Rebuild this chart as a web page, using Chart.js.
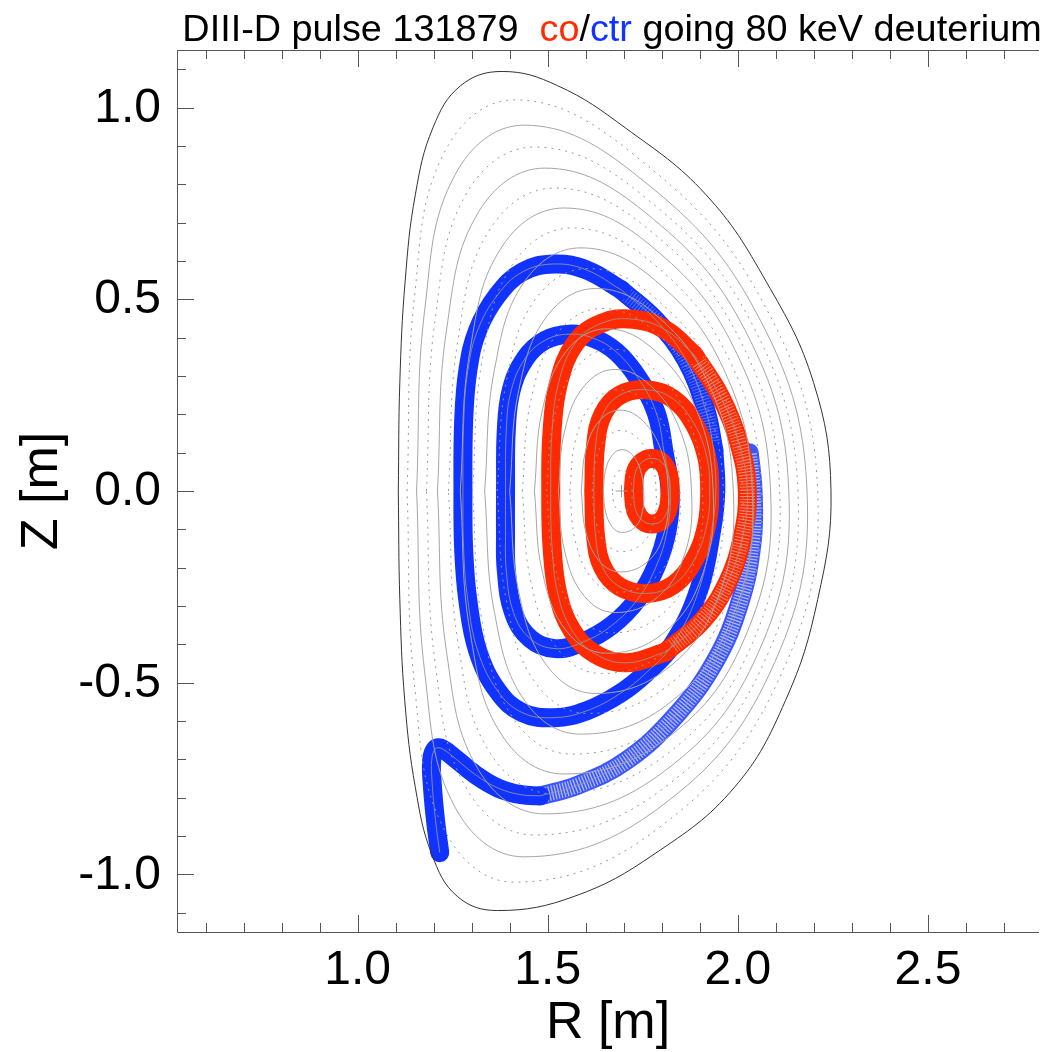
<!DOCTYPE html>
<html>
<head>
<meta charset="utf-8">
<title>DIII-D pulse 131879 orbits</title>
<script src="https://cdn.jsdelivr.net/npm/chart.js@4.4.1/dist/chart.umd.min.js"></script>
<style>
  html, body { margin: 0; padding: 0; background: #fff; }
  canvas { display: block; }
</style>
</head>
<body>
<canvas id="orbitChart" width="1046" height="1052"></canvas>
<script>
// axes
const rRange = [0.525, 2.792];
const zRange = [-1.15, 1.15];
const rTicks = [1.0, 1.5, 2.0, 2.5];
const rMinorTicks = [0.6, 0.7, 0.8, 0.9, 1.1, 1.2, 1.3, 1.4, 1.6, 1.7, 1.8, 1.9, 2.1, 2.2, 2.3, 2.4, 2.6, 2.7];
const zTicks = [-1.0, -0.5, 0.0, 0.5, 1.0];
const zMinorTicks = [-1.1, -0.9, -0.8, -0.7, -0.6, -0.4, -0.3, -0.2, -0.1, 0.1, 0.2, 0.3, 0.4, 0.6, 0.7, 0.8, 0.9, 1.1];

// flux surfaces, innermost first (1st dotted, 2nd solid, ...)
const fluxR = [
  [1.670, 1.673, 1.682, 1.695, 1.708, 1.718, 1.722, 1.720, 1.712, 1.695, 1.682, 1.673, 1.670],
  [1.646, 1.652, 1.670, 1.695, 1.723, 1.744, 1.752, 1.749, 1.730, 1.695, 1.670, 1.652, 1.646],
  [1.617, 1.626, 1.653, 1.693, 1.737, 1.772, 1.785, 1.779, 1.748, 1.693, 1.653, 1.626, 1.617],
  [1.588, 1.600, 1.636, 1.690, 1.750, 1.798, 1.817, 1.807, 1.764, 1.690, 1.636, 1.600, 1.588],
  [1.558, 1.573, 1.617, 1.684, 1.761, 1.824, 1.848, 1.835, 1.779, 1.684, 1.617, 1.573, 1.558],
  [1.528, 1.545, 1.597, 1.677, 1.770, 1.848, 1.878, 1.862, 1.791, 1.677, 1.597, 1.545, 1.528],
  [1.497, 1.516, 1.574, 1.667, 1.777, 1.870, 1.907, 1.886, 1.802, 1.667, 1.574, 1.516, 1.497],
  [1.465, 1.486, 1.550, 1.655, 1.782, 1.891, 1.935, 1.909, 1.810, 1.655, 1.550, 1.486, 1.465],
  [1.433, 1.456, 1.526, 1.642, 1.786, 1.911, 1.962, 1.931, 1.818, 1.642, 1.526, 1.456, 1.433],
  [1.400, 1.424, 1.499, 1.626, 1.787, 1.930, 1.988, 1.953, 1.822, 1.626, 1.499, 1.424, 1.400],
  [1.367, 1.392, 1.469, 1.606, 1.784, 1.946, 2.013, 1.971, 1.823, 1.606, 1.469, 1.392, 1.367],
  [1.334, 1.360, 1.441, 1.587, 1.783, 1.963, 2.038, 1.990, 1.825, 1.587, 1.441, 1.360, 1.334],
  [1.302, 1.328, 1.410, 1.564, 1.776, 1.977, 2.062, 2.006, 1.822, 1.564, 1.410, 1.328, 1.302],
  [1.270, 1.296, 1.381, 1.543, 1.772, 1.992, 2.086, 2.024, 1.821, 1.543, 1.381, 1.296, 1.270],
  [1.239, 1.264, 1.349, 1.518, 1.763, 2.005, 2.110, 2.039, 1.816, 1.518, 1.349, 1.264, 1.239],
  [1.210, 1.234, 1.319, 1.492, 1.753, 2.018, 2.134, 2.054, 1.809, 1.492, 1.319, 1.234, 1.210],
  [1.181, 1.204, 1.287, 1.464, 1.742, 2.030, 2.158, 2.068, 1.802, 1.464, 1.287, 1.204, 1.181],
  [1.155, 1.177, 1.257, 1.437, 1.730, 2.042, 2.182, 2.083, 1.793, 1.437, 1.257, 1.177, 1.155],
  [1.130, 1.150, 1.228, 1.411, 1.719, 2.056, 2.210, 2.099, 1.786, 1.411, 1.228, 1.150, 1.130]
];
const fluxZ = [
  [0, 0.028, 0.048, 0.055, 0.048, 0.028, 0, -0.028, -0.048, -0.055, -0.048, -0.028, 0],
  [0, 0.054, 0.094, 0.108, 0.094, 0.054, 0, -0.054, -0.094, -0.108, -0.094, -0.054, 0],
  [0, 0.079, 0.137, 0.158, 0.137, 0.079, 0, -0.079, -0.137, -0.158, -0.137, -0.079, 0],
  [0, 0.106, 0.183, 0.211, 0.183, 0.106, 0, -0.106, -0.183, -0.211, -0.183, -0.106, 0],
  [0, 0.132, 0.229, 0.264, 0.229, 0.132, 0, -0.132, -0.229, -0.264, -0.229, -0.132, 0],
  [0, 0.159, 0.275, 0.317, 0.275, 0.159, 0, -0.159, -0.275, -0.317, -0.275, -0.159, 0],
  [0, 0.185, 0.320, 0.370, 0.320, 0.185, 0, -0.185, -0.320, -0.370, -0.320, -0.185, 0],
  [0, 0.212, 0.366, 0.423, 0.366, 0.212, 0, -0.212, -0.366, -0.423, -0.366, -0.212, 0],
  [0, 0.238, 0.412, 0.476, 0.412, 0.238, 0, -0.238, -0.412, -0.476, -0.412, -0.238, 0],
  [0, 0.264, 0.457, 0.528, 0.457, 0.264, 0, -0.264, -0.457, -0.528, -0.457, -0.264, 0],
  [0, 0.290, 0.502, 0.580, 0.502, 0.290, 0, -0.290, -0.502, -0.580, -0.502, -0.290, 0],
  [0, 0.317, 0.549, 0.634, 0.549, 0.317, 0, -0.317, -0.549, -0.634, -0.549, -0.317, 0],
  [0, 0.343, 0.594, 0.686, 0.594, 0.343, 0, -0.343, -0.594, -0.686, -0.594, -0.343, 0],
  [0, 0.369, 0.639, 0.738, 0.639, 0.369, 0, -0.369, -0.639, -0.738, -0.639, -0.369, 0],
  [0, 0.395, 0.684, 0.790, 0.684, 0.395, 0, -0.395, -0.684, -0.790, -0.684, -0.395, 0],
  [0, 0.421, 0.729, 0.842, 0.729, 0.421, 0, -0.421, -0.729, -0.842, -0.729, -0.421, 0],
  [0, 0.449, 0.777, 0.897, 0.777, 0.449, 0, -0.449, -0.777, -0.897, -0.777, -0.449, 0],
  [0, 0.477, 0.826, 0.954, 0.826, 0.477, 0, -0.477, -0.826, -0.954, -0.826, -0.477, 0],
  [0, 0.510, 0.883, 1.020, 0.883, 0.510, 0, -0.510, -0.883, -1.020, -0.883, -0.510, 0]
];
const boundaryR = [1.107, 1.111, 1.125, 1.152, 1.198, 1.271, 1.380, 1.526, 1.704, 1.915, 2.074, 2.199, 2.245,
  2.210, 2.125, 1.990, 1.780, 1.570, 1.368, 1.262, 1.195, 1.152, 1.124, 1.111, 1.107];
const boundaryZ = [0, 0.283, 0.547, 0.774, 0.947, 1.057, 1.094, 1.057, 0.947, 0.774, 0.547, 0.283, 0,
  -0.283, -0.547, -0.774, -0.947, -1.057, -1.094, -1.057, -0.947, -0.774, -0.547, -0.283, 0];
const magAxis = { x: 1.694, y: 0.0 };

// co-going (red) orbits
const coSmallR = [1.725, 1.731, 1.750, 1.775, 1.800, 1.817, 1.822, 1.817, 1.800, 1.775, 1.750, 1.731, 1.725];
const coSmallZ = [0, 0.050, 0.077, 0.085, 0.075, 0.045, 0, -0.045, -0.077, -0.086, -0.078, -0.050, 0];
const coMidR = [1.621, 1.626, 1.645, 1.690, 1.760, 1.830, 1.885, 1.918, 1.926, 1.918, 1.885, 1.830, 1.760, 1.690, 1.645, 1.626, 1.621];
const coMidZ = [0, 0.120, 0.200, 0.250, 0.264, 0.240, 0.175, 0.090, 0, -0.090, -0.180, -0.245, -0.267, -0.250, -0.200, -0.120, 0];
const coOuterR = [1.810, 1.710, 1.625, 1.565, 1.527, 1.511, 1.508, 1.511, 1.528, 1.572, 1.640, 1.725, 1.810, 1.885];
const coOuterZ = [-0.420, -0.448, -0.425, -0.365, -0.270, -0.140, 0, 0.150, 0.280, 0.385, 0.437, 0.448, 0.420, 0.355];
const coOuterFastR = [1.885, 1.955, 2.003, 2.025, 2.012, 1.972, 1.905, 1.810];
const coOuterFastZ = [0.355, 0.245, 0.125, 0, -0.120, -0.240, -0.340, -0.420];

// counter-going (blue) orbits
const ctrInnerR = [1.389, 1.391, 1.404, 1.441, 1.493, 1.556, 1.621, 1.681, 1.738, 1.785, 1.806, 1.822, 1.814, 1.785, 1.738, 1.668, 1.590, 1.519, 1.454, 1.410, 1.391, 1.389, 1.389];
const ctrInnerZ = [0, 0.158, 0.263, 0.346, 0.393, 0.409, 0.398, 0.362, 0.294, 0.205, 0.101, -0.004, -0.103, -0.197, -0.280, -0.351, -0.395, -0.411, -0.385, -0.317, -0.207, -0.103, 0];
const ctrOuterR = [1.694, 1.603, 1.517, 1.433, 1.368, 1.316, 1.290, 1.279, 1.277, 1.279, 1.290, 1.316, 1.368, 1.433, 1.517, 1.603, 1.689, 1.759, 1.830, 1.897, 1.931, 1.942, 1.937];
const ctrOuterZ = [0.524, 0.576, 0.592, 0.571, 0.511, 0.420, 0.315, 0.184, 0, -0.155, -0.286, -0.417, -0.521, -0.578, -0.591, -0.573, -0.529, -0.474, -0.398, -0.259, -0.103, 0, 0.106];
const ctrOuterFastR = [1.937, 1.916, 1.864, 1.785, 1.694];
const ctrOuterFastZ = [0.106, 0.210, 0.341, 0.445, 0.524];
const ctrLostR = [1.216, 1.205, 1.196, 1.195, 1.205, 1.222, 1.260, 1.310, 1.370, 1.430, 1.480];
const ctrLostZ = [-0.943, -0.860, -0.760, -0.700, -0.672, -0.672, -0.700, -0.740, -0.775, -0.792, -0.795];
const ctrLostFastR = [1.480, 1.577, 1.707, 1.837, 1.942, 2.007, 2.038, 2.040, 2.030];
const ctrLostFastZ = [-0.795, -0.768, -0.703, -0.585, -0.441, -0.285, -0.129, 0.0, 0.100];

const RED = '#ff2a00';
const BLUE = '#1133ff';
const BAND = 19;

function pts(rs, zs) {
  return rs.map((r, i) => ({ x: r, y: zs[i] }));
}

function orbit(rs, zs, color, order) {
  return {
    data: pts(rs, zs), showLine: true, pointRadius: 0, borderColor: color, borderWidth: BAND,
    borderCapStyle: 'round', borderJoinStyle: 'round', tension: 0.4, fill: false, order: order
  };
}

// markers spread apart where the ion moves fast: band with ring-like stripes
function stripes(rs, zs, color, dash, order) {
  return {
    data: pts(rs, zs), showLine: true, pointRadius: 0, borderColor: color, borderWidth: BAND - 4,
    borderCapStyle: 'butt', borderDash: dash, tension: 0.4, fill: false, order: order
  };
}

function trace(rs, zs) {
  return {
    data: pts(rs, zs), showLine: true, pointRadius: 0, borderColor: 'rgba(150,150,150,0.85)',
    borderWidth: 1, tension: 0.4, fill: false, order: 5
  };
}

const datasets = [];
datasets.push(orbit(ctrLostR, ctrLostZ, BLUE, 40));
datasets.push(orbit(ctrLostFastR, ctrLostFastZ, 'rgba(25,55,255,0.85)', 42));
datasets.push(stripes(ctrLostFastR, ctrLostFastZ, 'rgba(255,255,255,0.6)', [1.3, 1.7], 41.5));
datasets.push(orbit(ctrOuterR, ctrOuterZ, BLUE, 39));
datasets.push(orbit(ctrOuterFastR, ctrOuterFastZ, BLUE, 39.8));
datasets.push(stripes(ctrOuterFastR, ctrOuterFastZ, 'rgba(255,255,255,0.3)', [1, 2], 39.5));
datasets.push(orbit(ctrInnerR, ctrInnerZ, BLUE, 38));
datasets.push(orbit(coOuterFastR, coOuterFastZ, RED, 30));
datasets.push(stripes(coOuterFastR, coOuterFastZ, 'rgba(255,255,255,0.45)', [1, 2], 29.5));
datasets.push(orbit(coOuterR, coOuterZ, RED, 29));
datasets.push(orbit(coMidR, coMidZ, RED, 28));
datasets.push(orbit(coSmallR, coSmallZ, RED, 27));

fluxR.forEach((rs, i) => {
  datasets.push({
    data: pts(rs, fluxZ[i]), showLine: true, pointRadius: 0, tension: 0.4, fill: false,
    borderColor: i % 2 === 0 ? '#9a9a9a' : '#a6a6a6', borderWidth: 1,
    borderDash: i % 2 === 0 ? [2, 5] : [], order: 10
  });
});
datasets.push({
  data: pts(boundaryR, boundaryZ), showLine: true, pointRadius: 0, tension: 0.4, fill: false,
  borderColor: '#333', borderWidth: 1, order: 10
});

[[ctrLostR, ctrLostZ], [ctrLostFastR, ctrLostFastZ], [ctrOuterR, ctrOuterZ], [ctrOuterFastR, ctrOuterFastZ],
 [ctrInnerR, ctrInnerZ], [coOuterR, coOuterZ], [coOuterFastR, coOuterFastZ], [coMidR, coMidZ], [coSmallR, coSmallZ]]
  .forEach(p => datasets.push(trace(p[0], p[1])));

datasets.push({
  data: [magAxis], showLine: false, pointStyle: 'cross', pointRadius: 6,
  pointBorderColor: '#999', pointBorderWidth: 1, order: 0
});

const FONT = '"Liberation Sans", Arial, Helvetica, sans-serif';

const axesPlugin = {
  id: 'idlAxes',
  beforeDraw(chart) {
    const ctx = chart.ctx;
    ctx.save();
    ctx.fillStyle = '#fff';
    ctx.fillRect(0, 0, chart.width, chart.height);
    ctx.restore();
  },
  afterDraw(chart) {
    const ctx = chart.ctx;
    const a = chart.chartArea;
    const xs = chart.scales.x, ys = chart.scales.y;
    ctx.save();
    ctx.strokeStyle = '#555';
    ctx.lineWidth = 1;
    ctx.beginPath();
    ctx.moveTo(a.left + 0.5, a.top + 0.5);
    ctx.lineTo(a.left + 0.5, a.bottom + 0.5);
    ctx.lineTo(a.right, a.bottom + 0.5);
    ctx.moveTo(a.left + 0.5, a.top + 0.5);
    ctx.lineTo(a.right, a.top + 0.5);
    // inward ticks
    const xt = (v, len) => {
      const px = Math.round(xs.getPixelForValue(v)) + 0.5;
      ctx.moveTo(px, a.bottom); ctx.lineTo(px, a.bottom - len);
      ctx.moveTo(px, a.top); ctx.lineTo(px, a.top + len);
    };
    const yt = (v, len) => {
      const py = Math.round(ys.getPixelForValue(v)) + 0.5;
      ctx.moveTo(a.left, py); ctx.lineTo(a.left + len, py);
    };
    rTicks.forEach(v => xt(v, 17));
    rMinorTicks.forEach(v => xt(v, 9));
    zTicks.forEach(v => yt(v, 17));
    zMinorTicks.forEach(v => yt(v, 9));
    ctx.stroke();

    // tick labels
    ctx.fillStyle = '#000';
    ctx.font = '48px ' + FONT;
    ctx.textAlign = 'center';
    ctx.textBaseline = 'alphabetic';
    rTicks.forEach(v => ctx.fillText(v.toFixed(1), xs.getPixelForValue(v), 984));
    ctx.textAlign = 'right';
    ctx.textBaseline = 'middle';
    zTicks.forEach(v => ctx.fillText(v.toFixed(1), 161, ys.getPixelForValue(v) + 1));

    // axis titles
    ctx.font = '52px ' + FONT;
    ctx.textAlign = 'center';
    ctx.textBaseline = 'alphabetic';
    ctx.fillText('R [m]', (a.left + a.right) / 2, 1038);
    ctx.save();
    ctx.translate(57, (a.top + a.bottom) / 2);
    ctx.rotate(-Math.PI / 2);
    ctx.fillText('Z [m]', 0, 0);
    ctx.restore();

    // title with coloured words
    const parts = [['DIII-D pulse 131879  ', '#000'], ['co', RED], ['/', '#000'], ['ctr', BLUE], [' going 80 keV deuterium', '#000']];
    ctx.font = '37.8px ' + FONT;
    ctx.textAlign = 'left';
    const total = parts.reduce((s, p) => s + ctx.measureText(p[0]).width, 0);
    let x = (a.left + a.right) / 2 + 4 - total / 2;
    parts.forEach(p => {
      ctx.fillStyle = p[1];
      ctx.fillText(p[0], x, 41);
      x += ctx.measureText(p[0]).width;
    });
    ctx.restore();
  }
};

new Chart(document.getElementById('orbitChart'), {
  type: 'scatter',
  data: { datasets: datasets },
  options: {
    responsive: false,
    animation: false,
    events: [],
    layout: { padding: { left: 177, top: 50, right: 0, bottom: 120 } },
    scales: {
      x: { type: 'linear', min: rRange[0], max: rRange[1], display: false },
      y: { type: 'linear', min: zRange[0], max: zRange[1], display: false }
    },
    plugins: { legend: { display: false }, tooltip: { enabled: false } }
  },
  plugins: [axesPlugin]
});
</script>
</body>
</html>
